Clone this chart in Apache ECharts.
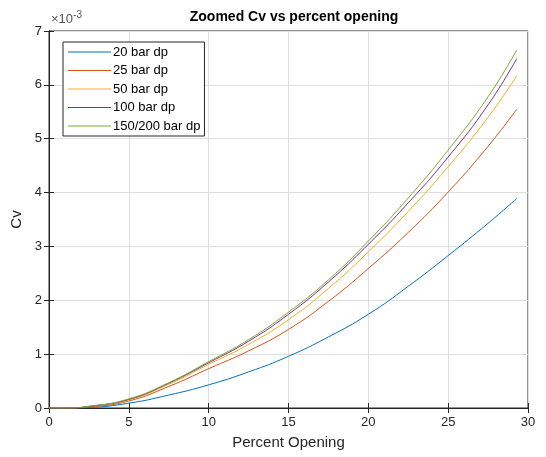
<!DOCTYPE html>
<html>
<head>
<meta charset="utf-8">
<script src="https://cdn.jsdelivr.net/npm/echarts@6/dist/echarts.min.js"></script>
<style>
html,body{margin:0;padding:0;background:#fff;}
#chart{width:546px;height:457px;}
</style>
</head>
<body>
<div id="chart"></div>
<script>
// Percent opening (x) and Cv values in units of 1e-3
var xValues = [0, 1, 2.5, 5, 7.5, 10, 12.5, 15, 17.5, 20, 22.5, 25, 27.5, 29.3];
var cv20  = [0, 0, 0.01, 0.09, 0.24, 0.43, 0.67, 0.96, 1.32, 1.74, 2.26, 2.83, 3.43, 3.89];
var cv25  = [0, 0, 0.02, 0.13, 0.40, 0.73, 1.06, 1.46, 1.98, 2.59, 3.26, 4.01, 4.86, 5.55];
var cv50  = [0, 0, 0.03, 0.15, 0.44, 0.81, 1.18, 1.64, 2.22, 2.90, 3.65, 4.48, 5.40, 6.17];
var cv100 = [0, 0, 0.03, 0.16, 0.46, 0.84, 1.24, 1.74, 2.34, 3.04, 3.81, 4.66, 5.63, 6.49];
var cv150 = [0, 0, 0.03, 0.17, 0.47, 0.86, 1.27, 1.78, 2.38, 3.10, 3.90, 4.79, 5.78, 6.65];
var seriesNames = ['20 bar dp', '25 bar dp', '50 bar dp', '100 bar dp', '150/200 bar dp'];
var seriesColors = ['#0072BD', '#D95319', '#EDB120', '#7E2F8E', '#77AC30'];
var title = 'Zoomed Cv vs percent opening';
var xLabel = 'Percent Opening';
var yLabel = 'Cv';

var allY = [cv20, cv25, cv50, cv100, cv150];
function pairs(ys){ return xValues.map(function(x,i){ return [x, ys[i]]; }); }

var axisColor = '#262626';
var font = 'Liberation Sans, Arial, sans-serif';

var chart = echarts.init(document.getElementById('chart'), null, {renderer:'canvas'});
chart.setOption({
  animation: false,
  backgroundColor: '#fff',
  title: {
    text: title, left: 289, top: 5, textAlign: 'center',
    textStyle: {fontFamily: font, fontSize: 14, fontWeight: 'bold', color: '#000'}
  },
  grid: {left: 49, right: 18, top: 31, bottom: 49, show: true, borderColor: axisColor, borderWidth: 1, backgroundColor: '#fff'},
  legend: {
    left: 63, top: 42, orient: 'vertical',
    data: seriesNames.map(function(n){ return {name: n, icon: 'rect'}; }),
    itemWidth: 43, itemHeight: 1.2, itemGap: 2.5,
    padding: [2, 4, 2, 5],
    borderColor: axisColor, borderWidth: 1, backgroundColor: '#fff',
    textStyle: {fontFamily: font, fontSize: 13, lineHeight: 16, color: '#000', padding: [0,0,0,-3]}
  },
  xAxis: [{
    type: 'value', min: 0, max: 30, interval: 5,
    name: xLabel, nameLocation: 'middle', nameGap: 27,
    nameTextStyle: {fontFamily: font, fontSize: 15, color: axisColor},
    axisLine: {show: true, lineStyle: {color: axisColor}},
    axisTick: {show: true, inside: true, length: 5, lineStyle: {color: axisColor}},
    axisLabel: {fontFamily: font, fontSize: 13, color: axisColor, margin: 8},
    splitLine: {show: true, lineStyle: {color: '#dfdfdf'}}
  }, {
    type: 'value', position: 'top', min: 0, max: 30, interval: 5,
    axisLine: {show: true, lineStyle: {color: axisColor}},
    axisTick: {show: true, inside: true, length: 5, lineStyle: {color: axisColor}},
    axisLabel: {show: false}, splitLine: {show: false}
  }],
  yAxis: [{
    type: 'value', min: 0, max: 7, interval: 1,
    name: yLabel, nameLocation: 'middle', nameGap: 16, nameRotate: 90,
    nameTextStyle: {fontFamily: font, fontSize: 15, color: axisColor},
    axisLine: {show: true, lineStyle: {color: axisColor}},
    axisTick: {show: true, inside: true, length: 5, lineStyle: {color: axisColor}},
    axisLabel: {fontFamily: font, fontSize: 13, color: axisColor, margin: 7},
    splitLine: {show: true, lineStyle: {color: '#dfdfdf'}}
  }, {
    type: 'value', position: 'right', min: 0, max: 7, interval: 1,
    axisLine: {show: true, lineStyle: {color: axisColor}},
    axisTick: {show: true, inside: true, length: 5, lineStyle: {color: axisColor}},
    axisLabel: {show: false}, splitLine: {show: false}
  }],
  graphic: [{
    type: 'text', left: 51, top: 10,
    style: {
      text: '{a|×10}{b|-3}',
      rich: {
        a: {fontFamily: font, fontSize: 13, fill: '#555', verticalAlign: 'bottom'},
        b: {fontFamily: font, fontSize: 10, fill: '#555', verticalAlign: 'top', padding: [0,0,6,0]}
      }
    }
  }],
  series: allY.map(function(ys, i){
    return {
      name: seriesNames[i], type: 'line', smooth: true, symbol: 'none',
      data: pairs(ys), color: seriesColors[i],
      lineStyle: {width: 1, color: seriesColors[i]}
    };
  })
});
</script>
</body>
</html>
